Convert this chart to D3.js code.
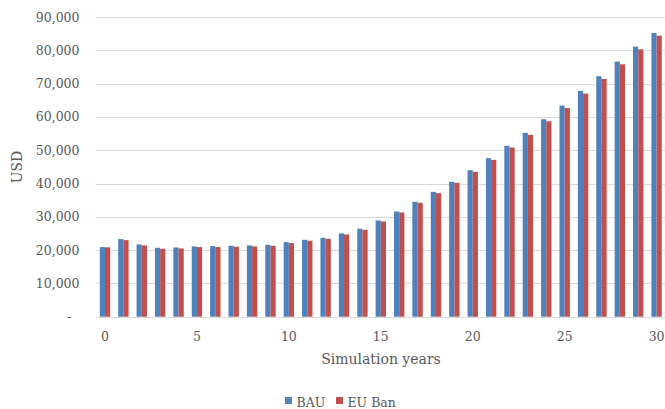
<!DOCTYPE html>
<html>
<head>
<meta charset="utf-8">
<script src="https://cdn.jsdelivr.net/npm/d3@7"></script>
<style>
html,body{margin:0;padding:0;background:#fff;}
svg{display:block;}
text{font-family:"DejaVu Serif","Liberation Serif",serif;fill:#595959;}
</style>
</head>
<body>
<svg id="chart" width="665" height="409"></svg>
<script>
const years = d3.range(0, 31);
const seriesNames = ["BAU", "EU Ban"];
const bau = [20900, 23300, 21700, 20700, 20800, 21100, 21200, 21300, 21400, 21600,
  22400, 23100, 23700, 25000, 26400, 28900, 31600, 34500, 37500, 40500,
  44000, 47600, 51300, 55200, 59300, 63400, 67800, 72200, 76600, 81100, 85200];
const euBan = [20850, 23000, 21400, 20400, 20500, 20900, 20900, 21000, 21100, 21300,
  22100, 22800, 23400, 24700, 26100, 28600, 31300, 34200, 37100, 40200,
  43500, 47100, 50800, 54600, 58700, 62700, 67000, 71400, 75800, 80300, 84400];
const yTicks = [0, 10000, 20000, 30000, 40000, 50000, 60000, 70000, 80000, 90000];
const xTickLabels = [0, 5, 10, 15, 20, 25, 30];
const colors = ["#4f81bd", "#c0504d"];

(function () {
const svg = d3.select("#chart");
const pLeft = 95.8, pRight = 665.8, pTop = 17, pBottom = 316.7;

const x = d3.scaleBand().domain(years).range([pLeft, pRight]).paddingInner(0.435).paddingOuter(0.2175);
const xs = d3.scaleBand().domain(seriesNames).range([0, x.bandwidth()]);
const y = d3.scaleLinear().domain([0, 90000]).range([pBottom, pTop]);

// gridlines
svg.append("g").selectAll("line").data(yTicks).join("line")
  .attr("x1", pLeft).attr("x2", 665)
  .attr("y1", d => Math.round(y(d)) + 0.5).attr("y2", d => Math.round(y(d)) + 0.5)
  .attr("stroke", "#d9d9d9").attr("stroke-width", 1);

// y axis labels
const fmt = d3.format(",");
const yAxis = d3.axisLeft(y).tickValues(yTicks).tickSize(0).tickPadding(0)
  .tickFormat(d => d === 0 ? "-" : fmt(d));
const yg = svg.append("g").attr("transform", `translate(${79.5},0)`).call(yAxis);
yg.select(".domain").remove();
yg.selectAll("text").attr("font-size", "12.5px").attr("fill", "#595959")
  .style("font-family", '"DejaVu Serif", serif');
yg.selectAll(".tick").filter(d => d === 0).select("text").attr("dx", -8);

// bars
const data = years.map((yr, i) => ({year: yr, vals: [bau[i], euBan[i]]}));
const groups = svg.append("g").selectAll("g").data(data).join("g")
  .attr("transform", d => `translate(${x(d.year)},0)`);
groups.selectAll("rect").data(d => d.vals.map((v, k) => ({k, v}))).join("rect")
  .attr("x", d => xs(seriesNames[d.k]))
  .attr("width", xs.bandwidth())
  .attr("y", d => y(d.v))
  .attr("height", d => y(0) - y(d.v))
  .attr("fill", d => colors[d.k]);

// x axis
const xAxis = d3.axisBottom(x).tickValues(xTickLabels).tickSize(0).tickPadding(0);
const xg = svg.append("g").attr("transform", `translate(0,${pBottom})`).call(xAxis);
xg.select(".domain").remove();
xg.selectAll("text").attr("font-size", "12.5px").attr("fill", "#595959")
  .attr("dy", null).attr("y", 24.5)
  .style("font-family", '"DejaVu Serif", serif');

// axis line
svg.append("line").attr("x1", pLeft).attr("x2", 665)
  .attr("y1", Math.round(pBottom) + 0.5).attr("y2", Math.round(pBottom) + 0.5)
  .attr("stroke", "#d9d9d9");

// axis titles
svg.append("text").attr("x", 381).attr("y", 364).attr("text-anchor", "middle")
  .attr("font-size", "14px").text("Simulation years");
svg.append("text").attr("transform", `translate(22,167) rotate(-90)`)
  .attr("text-anchor", "middle").attr("font-size", "14px").text("USD");

// legend
const legend = svg.append("g");
const legX = [285, 336];
seriesNames.forEach((n, k) => {
  legend.append("rect").attr("x", legX[k]).attr("y", 397).attr("width", 7).attr("height", 7).attr("fill", colors[k]);
  legend.append("text").attr("x", legX[k] + 11.5).attr("y", 406.5).attr("font-size", "12.5px").text(n);
});
})();
</script>
</body>
</html>
